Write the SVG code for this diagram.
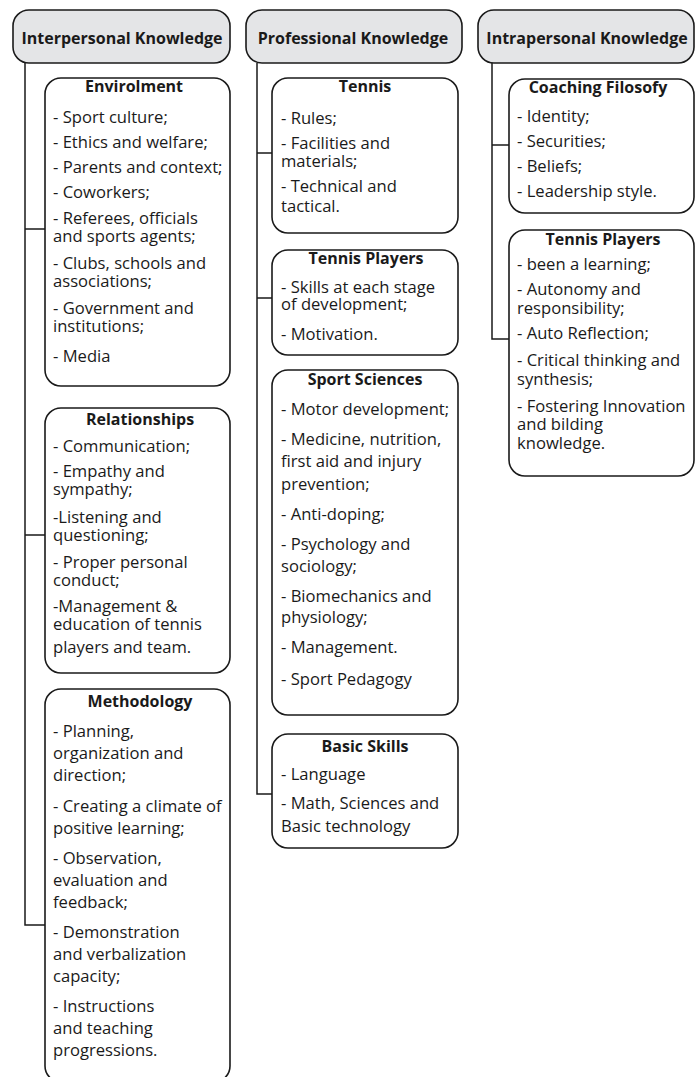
<svg xmlns="http://www.w3.org/2000/svg" width="699" height="1077" viewBox="0 0 699 1077">
  <style>
    .hdr { fill: #e4e5e7; stroke: #1a1a1a; stroke-width: 1.6; }
    .box { fill: #ffffff; stroke: #1a1a1a; stroke-width: 1.6; }
    .lnk { fill: none; stroke: #1a1a1a; stroke-width: 1.5; }
    text { font-family: "Open Sans", "Noto Sans", "DejaVu Sans", sans-serif; fill: #1a1a1a; }
    .ht { font-size: 16px; font-weight: bold; text-anchor: middle; }
    .tt { font-size: 16px; font-weight: bold; text-anchor: middle; }
    .it { font-size: 16.6px; }
  </style>
  <rect width="699" height="1077" fill="#ffffff"/>

  <!-- tree connectors -->
  <g id="connectors">
    <path class="lnk" d="M25,63 V925 H45 M25,229 H45 M25,535 H45"/>
    <path class="lnk" d="M257,63 V794 H272 M257,153 H272 M257,298 H272"/>
    <path class="lnk" d="M492,63 V339 H509 M492,145 H509"/>
  </g>

  <!-- column 1 -->
  <g id="interpersonal">
    <rect class="hdr" x="13" y="10" width="217" height="53" rx="16"/>
    <text class="ht" x="122" y="44">Interpersonal Knowledge</text>
  </g>
  <g id="envirolment">
    <rect class="box" x="45" y="78" width="185" height="308" rx="16"/>
    <text class="tt" x="134" y="92">Envirolment</text>
    <text class="it">
      <tspan x="53" y="123">- Sport culture;</tspan>
      <tspan x="53" y="148">- Ethics and welfare;</tspan>
      <tspan x="53" y="173">- Parents and context;</tspan>
      <tspan x="53" y="198">- Coworkers;</tspan>
      <tspan x="53" y="224">- Referees, officials</tspan>
      <tspan x="53" y="242">and sports agents;</tspan>
      <tspan x="53" y="269">- Clubs, schools and</tspan>
      <tspan x="53" y="287">associations;</tspan>
      <tspan x="53" y="314">- Government and</tspan>
      <tspan x="53" y="332">institutions;</tspan>
      <tspan x="53" y="362">- Media</tspan>
    </text>
  </g>
  <g id="relationships">
    <rect class="box" x="45" y="408" width="185" height="265" rx="16"/>
    <text class="tt" x="140" y="425">Relationships</text>
    <text class="it">
      <tspan x="53" y="452">- Communication;</tspan>
      <tspan x="53" y="477">- Empathy and</tspan>
      <tspan x="53" y="495">sympathy;</tspan>
      <tspan x="53" y="523">-Listening and</tspan>
      <tspan x="53" y="541">questioning;</tspan>
      <tspan x="53" y="568">- Proper personal</tspan>
      <tspan x="53" y="586">conduct;</tspan>
      <tspan x="53" y="612">-Management &amp;</tspan>
      <tspan x="53" y="630">education of tennis</tspan>
      <tspan x="53" y="653">players and team.</tspan>
    </text>
  </g>
  <g id="methodology">
    <rect class="box" x="45" y="689" width="185" height="393" rx="16"/>
    <text class="tt" x="140" y="707">Methodology</text>
    <text class="it">
      <tspan x="53" y="737">- Planning,</tspan>
      <tspan x="53" y="759">organization and</tspan>
      <tspan x="53" y="781">direction;</tspan>
      <tspan x="53" y="812">- Creating a climate of</tspan>
      <tspan x="53" y="834">positive learning;</tspan>
      <tspan x="53" y="864">- Observation,</tspan>
      <tspan x="53" y="886">evaluation and</tspan>
      <tspan x="53" y="908">feedback;</tspan>
      <tspan x="53" y="938">- Demonstration</tspan>
      <tspan x="53" y="960">and verbalization</tspan>
      <tspan x="53" y="982">capacity;</tspan>
      <tspan x="53" y="1012">- Instructions</tspan>
      <tspan x="53" y="1034">and teaching</tspan>
      <tspan x="53" y="1056">progressions.</tspan>
    </text>
  </g>

  <!-- column 2 -->
  <g id="professional">
    <rect class="hdr" x="246" y="10" width="216" height="53" rx="16"/>
    <text class="ht" x="353" y="44">Professional Knowledge</text>
  </g>
  <g id="tennis">
    <rect class="box" x="272" y="78" width="186" height="155" rx="16"/>
    <text class="tt" x="365" y="92">Tennis</text>
    <text class="it">
      <tspan x="281" y="124">- Rules;</tspan>
      <tspan x="281" y="149">- Facilities and</tspan>
      <tspan x="281" y="167">materials;</tspan>
      <tspan x="281" y="192">- Technical and</tspan>
      <tspan x="281" y="212">tactical.</tspan>
    </text>
  </g>
  <g id="tennis-players-pro">
    <rect class="box" x="272" y="250" width="186" height="105" rx="16"/>
    <text class="tt" x="366" y="264">Tennis Players</text>
    <text class="it">
      <tspan x="281" y="293">- Skills at each stage</tspan>
      <tspan x="281" y="310">of development;</tspan>
      <tspan x="281" y="340">- Motivation.</tspan>
    </text>
  </g>
  <g id="sport-sciences">
    <rect class="box" x="272" y="370" width="186" height="345" rx="16"/>
    <text class="tt" x="365" y="385">Sport Sciences</text>
    <text class="it">
      <tspan x="281" y="415">- Motor development;</tspan>
      <tspan x="281" y="445">- Medicine, nutrition,</tspan>
      <tspan x="281" y="467">first aid and injury</tspan>
      <tspan x="281" y="490">prevention;</tspan>
      <tspan x="281" y="520">- Anti-doping;</tspan>
      <tspan x="281" y="550">- Psychology and</tspan>
      <tspan x="281" y="572">sociology;</tspan>
      <tspan x="281" y="602">- Biomechanics and</tspan>
      <tspan x="281" y="623">physiology;</tspan>
      <tspan x="281" y="653">- Management.</tspan>
      <tspan x="281" y="685">- Sport Pedagogy</tspan>
    </text>
  </g>
  <g id="basic-skills">
    <rect class="box" x="272" y="734" width="186" height="114" rx="16"/>
    <text class="tt" x="365" y="752">Basic Skills</text>
    <text class="it">
      <tspan x="281" y="780">- Language</tspan>
      <tspan x="281" y="809">- Math, Sciences and</tspan>
      <tspan x="281" y="832">Basic technology</tspan>
    </text>
  </g>

  <!-- column 3 -->
  <g id="intrapersonal">
    <rect class="hdr" x="478" y="10" width="216" height="53" rx="16"/>
    <text class="ht" x="587" y="44">Intrapersonal Knowledge</text>
  </g>
  <g id="coaching-filosofy">
    <rect class="box" x="509" y="79" width="185" height="134" rx="16"/>
    <text class="tt" x="598" y="93">Coaching Filosofy</text>
    <text class="it">
      <tspan x="517" y="122">- Identity;</tspan>
      <tspan x="517" y="147">- Securities;</tspan>
      <tspan x="517" y="172">- Beliefs;</tspan>
      <tspan x="517" y="197">- Leadership style.</tspan>
    </text>
  </g>
  <g id="tennis-players-intra">
    <rect class="box" x="509" y="230" width="185" height="246" rx="16"/>
    <text class="tt" x="603" y="245">Tennis Players</text>
    <text class="it">
      <tspan x="517" y="270">- been a learning;</tspan>
      <tspan x="517" y="295">- Autonomy and</tspan>
      <tspan x="517" y="314">responsibility;</tspan>
      <tspan x="517" y="339">- Auto Reflection;</tspan>
      <tspan x="517" y="366">- Critical thinking and</tspan>
      <tspan x="517" y="385">synthesis;</tspan>
      <tspan x="517" y="412">- Fostering Innovation</tspan>
      <tspan x="517" y="430">and bilding</tspan>
      <tspan x="517" y="449">knowledge.</tspan>
    </text>
  </g>
</svg>
